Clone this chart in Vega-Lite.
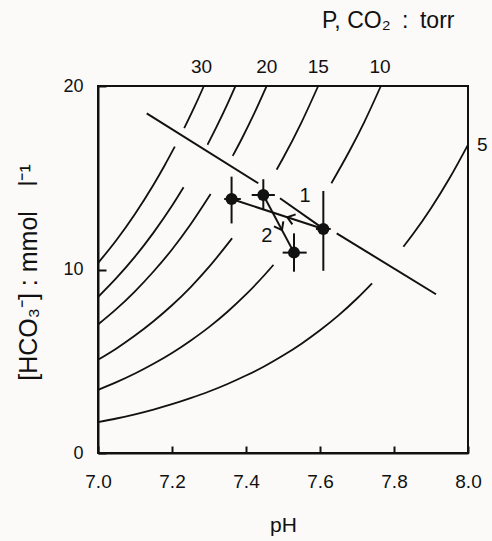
{
  "$schema": "https://vega.github.io/schema/vega-lite/v6.json",
  "width": 370,
  "height": 367,
  "autosize": {"type": "none"},
  "padding": {"left": 98, "top": 86, "right": 24, "bottom": 88},
  "background": "#fbfaf8",
  "config": {
    "view": {"stroke": "#111", "strokeWidth": 2},
    "font": "Liberation Sans",
    "axis": {"domainColor": "#111", "domainWidth": 2, "grid": false, "tickColor": "#111", "tickWidth": 2, "labelColor": "#111", "titleColor": "#111", "labelFont": "Liberation Sans", "titleFont": "Liberation Sans", "titleFontWeight": "normal", "labelFlush": false, "zindex": 1}
  },
  "datasets": {
    "curves": [
      {"seg": "30a", "pH": 7.2862, "hco3": 20}, {"seg": "30a", "pH": 7.26, "hco3": 18.83}, {"seg": "30a", "pH": 7.233, "hco3": 17.7},
      {"seg": "30b", "pH": 7.2078, "hco3": 16.7}, {"seg": "30b", "pH": 7.18, "hco3": 15.67}, {"seg": "30b", "pH": 7.15, "hco3": 14.62}, {"seg": "30b", "pH": 7.1, "hco3": 13.03}, {"seg": "30b", "pH": 7.05, "hco3": 11.61}, {"seg": "30b", "pH": 7.0, "hco3": 10.35},
      {"seg": "25a", "pH": 7.3716, "hco3": 20}, {"seg": "25a", "pH": 7.35, "hco3": 19.03}, {"seg": "25a", "pH": 7.32, "hco3": 17.76}, {"seg": "25a", "pH": 7.2959, "hco3": 16.8},
      {"seg": "25b", "pH": 7.2313, "hco3": 14.48}, {"seg": "25b", "pH": 7.2, "hco3": 13.47}, {"seg": "25b", "pH": 7.15, "hco3": 12.01}, {"seg": "25b", "pH": 7.1, "hco3": 10.7}, {"seg": "25b", "pH": 7.05, "hco3": 9.54}, {"seg": "25b", "pH": 7.0, "hco3": 8.5},
      {"seg": "20a", "pH": 7.4559, "hco3": 20}, {"seg": "20a", "pH": 7.42, "hco3": 18.41}, {"seg": "20a", "pH": 7.39, "hco3": 17.18}, {"seg": "20a", "pH": 7.3641, "hco3": 16.19},
      {"seg": "20b", "pH": 7.3044, "hco3": 14.11}, {"seg": "20b", "pH": 7.25, "hco3": 12.45}, {"seg": "20b", "pH": 7.2, "hco3": 11.09}, {"seg": "20b", "pH": 7.15, "hco3": 9.89}, {"seg": "20b", "pH": 7.1, "hco3": 8.81}, {"seg": "20b", "pH": 7.05, "hco3": 7.85}, {"seg": "20b", "pH": 7.0, "hco3": 7.0},
      {"seg": "15a", "pH": 7.5951, "hco3": 20}, {"seg": "15a", "pH": 7.55, "hco3": 18.02}, {"seg": "15a", "pH": 7.5, "hco3": 16.06}, {"seg": "15a", "pH": 7.4828, "hco3": 15.44},
      {"seg": "15b", "pH": 7.3623, "hco3": 11.7}, {"seg": "15b", "pH": 7.3, "hco3": 10.14}, {"seg": "15b", "pH": 7.25, "hco3": 9.03}, {"seg": "15b", "pH": 7.2, "hco3": 8.05}, {"seg": "15b", "pH": 7.15, "hco3": 7.18}, {"seg": "15b", "pH": 7.1, "hco3": 6.4}, {"seg": "15b", "pH": 7.05, "hco3": 5.7}, {"seg": "15b", "pH": 7.0, "hco3": 5.08},
      {"seg": "10a", "pH": 7.7645, "hco3": 20}, {"seg": "10a", "pH": 7.72, "hco3": 18.05}, {"seg": "10a", "pH": 7.68, "hco3": 16.47}, {"seg": "10a", "pH": 7.6307, "hco3": 14.7},
      {"seg": "10b", "pH": 7.4742, "hco3": 10.25}, {"seg": "10b", "pH": 7.45, "hco3": 9.7}, {"seg": "10b", "pH": 7.4, "hco3": 8.64}, {"seg": "10b", "pH": 7.35, "hco3": 7.7}, {"seg": "10b", "pH": 7.3, "hco3": 6.86}, {"seg": "10b", "pH": 7.25, "hco3": 6.12}, {"seg": "10b", "pH": 7.2, "hco3": 5.45}, {"seg": "10b", "pH": 7.15, "hco3": 4.86}, {"seg": "10b", "pH": 7.1, "hco3": 4.33}, {"seg": "10b", "pH": 7.05, "hco3": 3.86}, {"seg": "10b", "pH": 7.0, "hco3": 3.44},
      {"seg": "5a", "pH": 8.0, "hco3": 16.8}, {"seg": "5a", "pH": 7.95, "hco3": 14.97}, {"seg": "5a", "pH": 7.9, "hco3": 13.34}, {"seg": "5a", "pH": 7.85, "hco3": 11.89}, {"seg": "5a", "pH": 7.8254, "hco3": 11.24},
      {"seg": "5b", "pH": 7.7408, "hco3": 9.25}, {"seg": "5b", "pH": 7.7, "hco3": 8.42}, {"seg": "5b", "pH": 7.65, "hco3": 7.5}, {"seg": "5b", "pH": 7.6, "hco3": 6.69}, {"seg": "5b", "pH": 7.55, "hco3": 5.96}, {"seg": "5b", "pH": 7.5, "hco3": 5.31}, {"seg": "5b", "pH": 7.45, "hco3": 4.73}, {"seg": "5b", "pH": 7.4, "hco3": 4.22}, {"seg": "5b", "pH": 7.35, "hco3": 3.76}, {"seg": "5b", "pH": 7.3, "hco3": 3.35}, {"seg": "5b", "pH": 7.25, "hco3": 2.99}, {"seg": "5b", "pH": 7.2, "hco3": 2.66}, {"seg": "5b", "pH": 7.15, "hco3": 2.37}, {"seg": "5b", "pH": 7.1, "hco3": 2.11}, {"seg": "5b", "pH": 7.05, "hco3": 1.88}, {"seg": "5b", "pH": 7.0, "hco3": 1.68}
    ],
    "segments": [
      {"kind": "buffer", "pH": 7.1316, "hco3": 18.51, "pH2": 7.4332, "hco3b": 14.7},
      {"kind": "buffer", "pH": 7.4919, "hco3": 13.88, "pH2": 7.6, "hco3b": 12.35},
      {"kind": "buffer", "pH": 7.6451, "hco3": 11.97, "pH2": 7.9135, "hco3b": 8.65},
      {"kind": "arrow1", "pH": 7.609, "hco3": 12.21, "pH2": 7.361, "hco3b": 13.84},
      {"kind": "arrow2", "pH": 7.4468, "hco3": 14.06, "pH2": 7.5297, "hco3b": 10.92}
    ],
    "points": [
      {"id": "A", "pH": 7.361, "hco3": 13.84, "xlo": 7.341, "xhi": 7.386, "ylo": 12.51, "yhi": 15.06},
      {"id": "B", "pH": 7.4468, "hco3": 14.06, "xlo": 7.4154, "xhi": 7.478, "ylo": 13.24, "yhi": 14.92},
      {"id": "C", "pH": 7.609, "hco3": 12.21, "xlo": 7.589, "xhi": 7.629, "ylo": 9.93, "yhi": 14.28},
      {"id": "D", "pH": 7.5297, "hco3": 10.92, "xlo": 7.499, "xhi": 7.564, "ylo": 9.88, "yhi": 11.97}
    ]
  },
  "encoding": {
    "x": {
      "field": "pH", "type": "quantitative", "title": "pH",
      "scale": {"domain": [7, 8], "nice": false, "zero": false},
      "axis": {"values": [7, 7.2, 7.4, 7.6, 7.8, 8], "format": ".1f", "tickSize": -7, "labelFontSize": 19, "labelPadding": 26, "titleFontSize": 21, "titleX": 185, "titleY": 72, "titleBaseline": "middle", "titleAlign": "center"}
    },
    "y": {
      "field": "hco3", "type": "quantitative", "title": "[HCO₃⁻] : mmol\u2003l⁻¹",
      "scale": {"domain": [0, 20], "nice": false, "zero": false},
      "axis": {"values": [0, 10, 20], "tickSize": -8, "labelFontSize": 18, "labelPadding": 23, "titleFontSize": 25, "titleAngle": -90, "titleX": -70, "titleY": 186, "titleAlign": "center", "titleBaseline": "middle"}
    }
  },
  "layer": [
    {
      "data": {"name": "curves"},
      "mark": {"type": "line", "interpolate": "monotone", "color": "#111", "strokeWidth": 1.8},
      "encoding": {"detail": {"field": "seg"}}
    },
    {
      "data": {"name": "segments"},
      "mark": {"type": "rule", "color": "#111", "strokeWidth": 2},
      "encoding": {"x2": {"field": "pH2"}, "y2": {"field": "hco3b"}}
    },
    {
      "data": {"name": "points"},
      "mark": {"type": "rule", "color": "#111", "strokeWidth": 2},
      "encoding": {"y": {"field": "ylo", "type": "quantitative", "title": "[HCO₃⁻] : mmol\u2003l⁻¹"}, "y2": {"field": "yhi"}}
    },
    {
      "data": {"name": "points"},
      "mark": {"type": "rule", "color": "#111", "strokeWidth": 2},
      "encoding": {"x": {"field": "xlo", "type": "quantitative", "title": "pH"}, "x2": {"field": "xhi"}}
    },
    {
      "data": {"name": "points"},
      "mark": {"type": "point", "shape": "circle", "filled": true, "color": "#111", "size": 144, "opacity": 1}
    },
    {
      "data": {"values": [{"pH": 7.5116, "hco3": 12.85}]},
      "mark": {"type": "point", "shape": "M-1,-0.75L0,0L-1,0.75", "filled": false, "color": "#111", "strokeWidth": 2, "size": 200, "angle": 198, "opacity": 1}
    },
    {
      "data": {"values": [{"pH": 7.4972, "hco3": 12.15}]},
      "mark": {"type": "point", "shape": "M-1,-0.75L0,0L-1,0.75", "filled": false, "color": "#111", "strokeWidth": 2, "size": 200, "angle": 62, "opacity": 1}
    },
    {
      "data": {"values": [{"label": "30", "pH": 7.28, "hco3": 20}, {"label": "20", "pH": 7.456, "hco3": 20}, {"label": "15", "pH": 7.5954, "hco3": 20}, {"label": "10", "pH": 7.762, "hco3": 20}]},
      "mark": {"type": "text", "fontSize": 19, "baseline": "bottom", "align": "center", "dy": -9, "color": "#111"},
      "encoding": {"text": {"field": "label"}}
    },
    {
      "data": {"values": [{"label": "5", "pH": 8.0, "hco3": 16.8}]},
      "mark": {"type": "text", "fontSize": 19, "baseline": "middle", "align": "left", "dx": 9, "color": "#111"},
      "encoding": {"text": {"field": "label"}}
    },
    {
      "data": {"values": [{"label": "P, CO₂\u2002:\u2002torr", "pH": 7.6054, "hco3": 20}]},
      "mark": {"type": "text", "fontSize": 23, "baseline": "alphabetic", "align": "left", "dy": -58, "color": "#111"},
      "encoding": {"text": {"field": "label"}}
    },
    {
      "data": {"values": [{"label": "1", "pH": 7.5595, "hco3": 14.0}, {"label": "2", "pH": 7.456, "hco3": 11.83}]},
      "mark": {"type": "text", "fontSize": 20, "baseline": "middle", "align": "center", "color": "#111"},
      "encoding": {"text": {"field": "label"}}
    }
  ]
}
